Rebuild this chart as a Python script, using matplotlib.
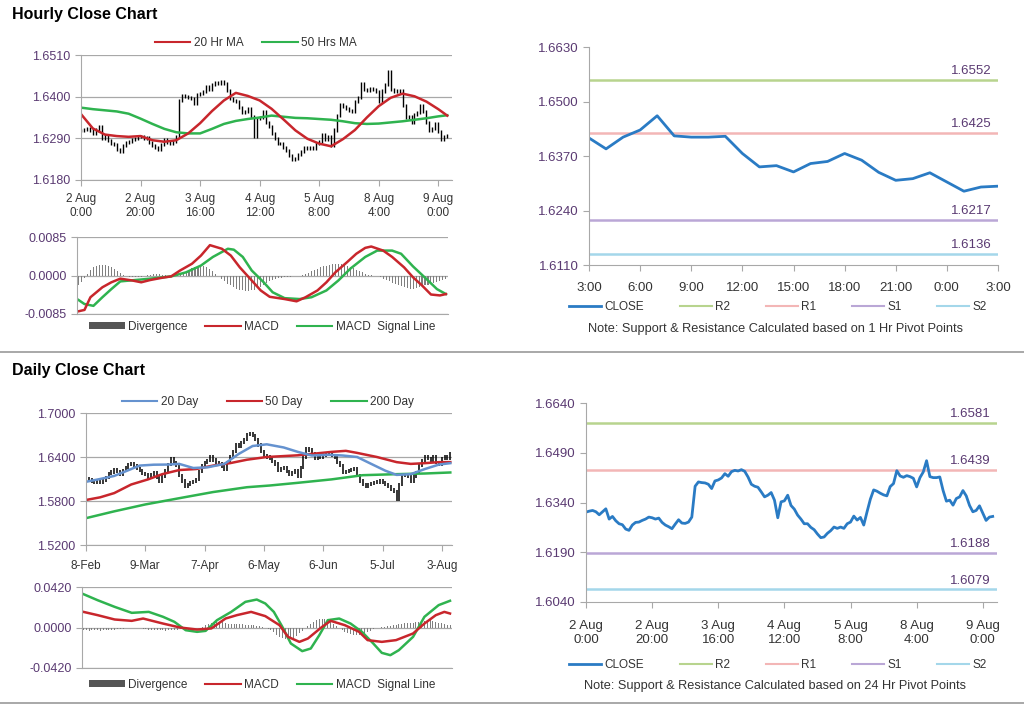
import numpy as np
import matplotlib
matplotlib.use('Agg')
import matplotlib.pyplot as plt
from matplotlib.lines import Line2D
from matplotlib.patches import Patch
import matplotlib.transforms as mtransforms

plt.rcParams['font.family'] = ['Liberation Sans', 'DejaVu Sans']

# ---------------- hourly data (2 Aug 0:00 -> 9 Aug 3:00) ----------------
hourly_close = [
    1.6311, 1.6314, 1.6316, 1.6312, 1.6303, 1.6312, 1.6321, 1.6290, 1.6298, 1.6285,
    1.6276, 1.6273, 1.6260, 1.6256, 1.6272, 1.6280, 1.6281, 1.6286, 1.6290, 1.6296,
    1.6294, 1.6290, 1.6293, 1.6280, 1.6272, 1.6267, 1.6261, 1.6275, 1.6288, 1.6278,
    1.6277, 1.6281, 1.6296, 1.6389, 1.6402, 1.6400, 1.6399, 1.6395, 1.6382, 1.6405,
    1.6408, 1.6414, 1.6427, 1.6419, 1.6433, 1.6437, 1.6435, 1.6439, 1.6434, 1.6417,
    1.6395, 1.6389, 1.6386, 1.6372, 1.6357, 1.6362, 1.6370, 1.6347, 1.6294, 1.6342,
    1.6345, 1.6362, 1.6331, 1.6320, 1.6302, 1.6290, 1.6276, 1.6276, 1.6265, 1.6258,
    1.6245, 1.6234, 1.6236, 1.6247, 1.6255, 1.6266, 1.6262, 1.6266, 1.6262, 1.6276,
    1.6281, 1.6299, 1.6287, 1.6295, 1.6272, 1.6312, 1.6350, 1.6378, 1.6374, 1.6368,
    1.6363, 1.6360, 1.6388, 1.6397, 1.6436, 1.6420, 1.6416, 1.6421, 1.6418,
    1.6413, 1.6387, 1.6415, 1.6432, 1.6466, 1.6418, 1.6415, 1.6415, 1.6417, 1.6376,
    1.6344, 1.6347, 1.6332, 1.6352, 1.6357, 1.6376, 1.6360, 1.6331, 1.6312, 1.6316,
    1.6330, 1.6308, 1.6286, 1.6296, 1.6298]
hourly_ticks = ['2 Aug\n0:00', '2 Aug\n20:00', '3 Aug\n16:00', '4 Aug\n12:00',
                '5 Aug\n8:00', '8 Aug\n4:00', '9 Aug\n0:00']

ma_hr_x = [0, 4, 8, 12, 16, 20, 24, 28, 32, 36, 40, 44, 48, 52, 56, 60,
           64, 68, 72, 76, 80, 84, 88, 92, 96, 100, 104, 108, 112, 116, 120, 123]
ma20_hr = [1.6354, 1.6316, 1.6300, 1.6296, 1.6294, 1.6296, 1.6285, 1.6281,
           1.6285, 1.6303, 1.6330, 1.6362, 1.6390, 1.6410, 1.6402, 1.6390,
           1.6368, 1.6340, 1.6311, 1.6289, 1.6276, 1.6269, 1.6288, 1.6312,
           1.6345, 1.6375, 1.6397, 1.6408, 1.6401, 1.6387, 1.6367, 1.6350]
ma50_hr = [1.6371, 1.6367, 1.6364, 1.6361, 1.6355, 1.6342, 1.6328, 1.6315,
           1.6306, 1.6303, 1.6303, 1.6315, 1.6328, 1.6336, 1.6341, 1.6345,
           1.6350, 1.6347, 1.6344, 1.6343, 1.6341, 1.6339, 1.6335, 1.6330,
           1.6328, 1.6329, 1.6332, 1.6335, 1.6339, 1.6343, 1.6348, 1.6351]

macd_hr_x = [0, 2, 4, 8, 11, 14, 18, 21, 24, 28, 31, 34, 38, 41, 44, 48, 51, 54, 58, 61,
             64, 69, 73, 76, 80, 83, 86, 90, 93, 96, 98, 102, 105, 109, 112, 115, 118, 121, 123]
macd_hr = [-0.0079, -0.0076, -0.0048, -0.0026, -0.0015, -0.0007, -0.0011, -0.0015, -0.0010, -0.0005,
           -0.0002, 0.0011, 0.0026, 0.0044, 0.0067, 0.0059, 0.0044, 0.0018, -0.0011, -0.0033,
           -0.0047, -0.0052, -0.0057, -0.0048, -0.0033, -0.0015, 0.0007, 0.0030, 0.0048, 0.0061,
           0.0064, 0.0055, 0.0041, 0.0018, -0.0004, -0.0022, -0.0042, -0.0044, -0.0041]
sig_hr_x = [0, 2, 5, 8, 11, 14, 19, 24, 31, 36, 41, 45, 50, 52, 55, 58, 62, 65, 69, 74,
            78, 83, 87, 91, 96, 100, 105, 108, 112, 117, 120, 123]
sig_hr = [-0.0054, -0.0063, -0.0067, -0.0048, -0.0030, -0.0013, -0.0010, -0.0007, -0.0002, 0.0007,
          0.0022, 0.0041, 0.0059, 0.0057, 0.0041, 0.0011, -0.0015, -0.0037, -0.0050, -0.0052,
          -0.0048, -0.0033, -0.0011, 0.0015, 0.0041, 0.0055, 0.0055, 0.0048, 0.0020, -0.0011,
          -0.0030, -0.0041]
div_hr = [
    -0.0020, -0.0014, -0.0006, 0.0004, 0.0012, 0.0018, 0.0022, 0.0024, 0.0024, 0.0024,
    0.0022, 0.0019, 0.0015, 0.0011, 0.0006, 0.0002, -0.0002, -0.0003, -0.0004, -0.0004,
    -0.0003, -0.0003, -0.0002, 0.0001, 0.0002, 0.0003, 0.0003, 0.0003, 0.0002, 0.0001,
    0.0000, 0.0001, 0.0001, 0.0002, 0.0004, 0.0007, 0.0010, 0.0013, 0.0016, 0.0019,
    0.0021, 0.0022, 0.0021, 0.0018, 0.0014, 0.0009, 0.0004, -0.0002, -0.0008, -0.0013,
    -0.0018, -0.0022, -0.0026, -0.0029, -0.0031, -0.0033, -0.0034, -0.0034, -0.0033, -0.0031,
    -0.0028, -0.0025, -0.0021, -0.0017, -0.0013, -0.0010, -0.0008, -0.0006, -0.0005, -0.0004,
    -0.0003, -0.0003, -0.0002, -0.0002, -0.0001, 0.0001, 0.0003, 0.0006, 0.0009, 0.0012,
    0.0015, 0.0018, 0.0020, 0.0022, 0.0024, 0.0025, 0.0026, 0.0026, 0.0025, 0.0024,
    0.0022, 0.0019, 0.0016, 0.0013, 0.0010, 0.0007, 0.0004, 0.0002, 0.0001, -0.0001,
    -0.0002, -0.0004, -0.0007, -0.0010, -0.0013, -0.0016, -0.0019, -0.0022, -0.0024, -0.0026,
    -0.0028, -0.0029, -0.0029, -0.0028, -0.0026, -0.0024, -0.0022, -0.0020, -0.0018, -0.0016,
    -0.0014, -0.0012, -0.0010, -0.0008]

last_day_labels = ['3:00', '6:00', '9:00', '12:00', '15:00', '18:00', '21:00', '0:00', '3:00']
level_names = ['R2', 'R1', 'S1', 'S2']
levels_1h = [1.6552, 1.6425, 1.6217, 1.6136]
levels_24h = [1.6581, 1.6439, 1.6188, 1.6079]

# ---------------- daily data (8 Feb -> Aug) ----------------
daily_close = [
    1.6110, 1.6090, 1.6065, 1.6055, 1.6070, 1.6048, 1.6080, 1.6120, 1.6170, 1.6195,
    1.6230, 1.6200, 1.6166, 1.6220, 1.6260, 1.6300, 1.6316, 1.6283, 1.6240, 1.6213,
    1.6180, 1.6166, 1.6119, 1.6160, 1.6189, 1.6120, 1.6072, 1.6142, 1.6220, 1.6300,
    1.6377, 1.6330, 1.6283, 1.6150, 1.6072, 1.6002, 1.6030, 1.6048, 1.6070, 1.6095,
    1.6200, 1.6283, 1.6330, 1.6353, 1.6400, 1.6360, 1.6330, 1.6316, 1.6270, 1.6236,
    1.6320, 1.6400, 1.6480, 1.6564, 1.6541, 1.6600, 1.6634, 1.6705, 1.6719, 1.6690,
    1.6634, 1.6564, 1.6480, 1.6423, 1.6400, 1.6377, 1.6340, 1.6306, 1.6213, 1.6240,
    1.6259, 1.6200, 1.6166, 1.6190, 1.6213, 1.6142, 1.6259, 1.6400, 1.6517, 1.6494,
    1.6440, 1.6377, 1.6390, 1.6400, 1.6423, 1.6435, 1.6447, 1.6420, 1.6400, 1.6330,
    1.6283, 1.6189, 1.6200, 1.6213, 1.6225, 1.6236, 1.6150, 1.6072, 1.6030, 1.6002,
    1.6025, 1.6040, 1.6048, 1.6060, 1.6072, 1.6050, 1.6025, 1.6002, 1.5960, 1.5931,
    1.5820, 1.6025, 1.6166, 1.6150, 1.6142, 1.6072, 1.6130, 1.6189, 1.6283, 1.6350,
    1.6400, 1.6380, 1.6353, 1.6400, 1.6330, 1.6306, 1.6380, 1.6400, 1.6377, 1.6447]
daily_ticks = ['8-Feb', '9-Mar', '7-Apr', '6-May', '6-Jun', '5-Jul', '3-Aug']

d20_x = [0, 5, 10, 15, 19, 24, 29, 33, 38, 43, 49, 54, 59, 64, 70, 75, 80, 86, 91, 96,
         101, 106, 110, 115, 120, 125, 129]
d20 = [1.6062, 1.6100, 1.6142, 1.6220, 1.6283, 1.6295, 1.6297, 1.6306, 1.6250, 1.6259,
       1.6306, 1.6440, 1.6550, 1.6573, 1.6530, 1.6470, 1.6420, 1.6430, 1.6420, 1.6400,
       1.6306, 1.6213, 1.6156, 1.6166, 1.6236, 1.6297, 1.6316]
d50_x = [0, 5, 10, 16, 22, 27, 33, 39, 45, 51, 57, 64, 75, 87, 92, 96, 103, 110, 115, 120, 125, 129]
d50 = [1.5814, 1.5850, 1.5908, 1.6025, 1.6095, 1.6166, 1.6222, 1.6236, 1.6283, 1.6316,
       1.6363, 1.6400, 1.6423, 1.6470, 1.6484, 1.6456, 1.6400, 1.6330, 1.6306, 1.6316,
       1.6330, 1.6330]
d200_x = [0, 10, 21, 33, 45, 57, 65, 75, 87, 98, 110, 120, 129]
d200 = [1.5566, 1.5659, 1.5753, 1.5838, 1.5922, 1.5988, 1.6011, 1.6048, 1.6095, 1.6152,
        1.6166, 1.6175, 1.6189]

macd_d_x = [0, 5, 11, 17, 21, 28, 34, 40, 45, 50, 54, 59, 64, 69, 72, 76, 79, 84, 87, 92,
            97, 100, 105, 110, 116, 120, 124, 127, 129]
macd_d = [0.0162, 0.0128, 0.0083, 0.0069, 0.0093, 0.0041, 0.0000, -0.0021, -0.0010, 0.0093,
          0.0128, 0.0162, 0.0118, 0.0024, -0.0097, -0.0149, -0.0114, 0.0007, 0.0069, 0.0024,
          -0.0045, -0.0131, -0.0149, -0.0131, -0.0062, 0.0041, 0.0128, 0.0162, 0.0145]
sig_d_x = [0, 5, 11, 17, 23, 28, 32, 36, 40, 43, 47, 52, 57, 61, 64, 67, 70, 73, 77, 80,
           83, 86, 90, 94, 98, 102, 105, 108, 111, 116, 120, 125, 129]
sig_d = [0.0346, 0.0283, 0.0214, 0.0152, 0.0162, 0.0111, 0.0059, -0.0028, -0.0045, -0.0035,
         0.0076, 0.0162, 0.0266, 0.0290, 0.0249, 0.0162, 0.0007, -0.0166, -0.0245, -0.0218,
         -0.0080, 0.0076, 0.0093, 0.0041, -0.0045, -0.0166, -0.0263, -0.0287, -0.0235, -0.0097,
         0.0111, 0.0232, 0.0277]
div_d = [
    -0.0028, -0.0030, -0.0032, -0.0030, -0.0028, -0.0030, -0.0032, -0.0030, -0.0028, -0.0030,
    -0.0026, -0.0024, -0.0020, -0.0016, -0.0012,
    -0.0008, -0.0006, -0.0004, -0.0004, -0.0006, -0.0010, -0.0014, -0.0018,
    -0.0022, -0.0026, -0.0030, -0.0030, -0.0028, -0.0030, -0.0032, -0.0030, -0.0028, -0.0026, -0.0022,
    -0.0018, -0.0016, -0.0020, -0.0022, -0.0018, -0.0014, -0.0010, 0.0000, 0.0010, 0.0022, 0.0034,
    0.0046, 0.0058, 0.0062, 0.0060, 0.0054, 0.0046, 0.0040, 0.0036, 0.0034, 0.0036, 0.0034,
    0.0032, 0.0030, 0.0028, 0.0030, 0.0026, 0.0020, 0.0012, 0.0004, -0.0006, -0.0018,
    -0.0030, -0.0050, -0.0075, -0.0095, -0.0110, -0.0120, -0.0124, -0.0118, -0.0105, -0.0085,
    -0.0060, -0.0035, -0.0010,
    0.0015, 0.0040, 0.0062, 0.0078, 0.0090, 0.0093, 0.0090, 0.0080, 0.0062, 0.0040, 0.0015,
    -0.0010, -0.0030, -0.0048, -0.0062, -0.0072, -0.0078, -0.0080, -0.0076, -0.0068, -0.0058,
    -0.0045, -0.0032, -0.0020, -0.0010, -0.0004,
    0.0002, 0.0006, 0.0012, 0.0018, 0.0024, 0.0030, 0.0036, 0.0040, 0.0044, 0.0046,
    0.0048, 0.0050, 0.0052, 0.0056, 0.0062, 0.0070, 0.0076, 0.0074, 0.0068, 0.0060,
    0.0050, 0.0042, 0.0036, 0.0030, 0.0024]

# ---------------- colours ----------------
RED = '#c8262c'
GREEN = '#2fb34f'
BLUE20 = '#6592cf'
CLOSE_BLUE = '#2a7bc4'
LEVEL_COLS = ['#b8d48e', '#f3b6b6', '#baa7d6', '#a4d7ea']
PURPLE = '#5a3a72'
GRID = '#a8a8a8'
TXT = '#333333'

W, H = 1024, 706
fig = plt.figure(figsize=(W / 100, H / 100), dpi=100)


def box(l, t, r, b):
    return fig.add_axes([l / W, 1 - b / H, (r - l) / W, (b - t) / H])


def clean(ax, grid=True, xpad=3.5):
    for s in ['top', 'right']:
        ax.spines[s].set_visible(False)
    for s in ['left', 'bottom']:
        ax.spines[s].set_color(GRID)
    ax.tick_params(axis='both', colors=GRID, length=4, width=0.8)
    ax.tick_params(axis='y', labelcolor=PURPLE)
    ax.tick_params(axis='x', labelcolor=TXT, pad=xpad)
    if grid:
        ax.yaxis.grid(True, color=GRID, lw=0.9)
        ax.set_axisbelow(True)


def price_bars(ax, closes, lw, pad):
    # bar from previous close to this close, with a short wick either side
    c = np.array(closes)
    x = np.arange(len(c))
    prev = np.r_[c[0], c[:-1]]
    ax.vlines(x, np.minimum(prev, c) - pad, np.maximum(prev, c) + pad,
              color='black', lw=lw)


def fmt(v, d=4):
    return f'{v:.{d}f}'


def macd_panel(ax, n, div, mx, m, sx, s, lim):
    ax.bar(np.arange(n), div, width=0.35, color='#7f7f7f')
    ax.plot(sx, s, color=GREEN, lw=1.8)
    ax.plot(mx, m, color=RED, lw=1.8)
    ax.set_ylim(-lim, lim)
    ax.set_yticks([-lim, 0, lim])
    ax.set_yticklabels([fmt(-lim), fmt(0), fmt(lim)], fontsize=9)
    ax.set_xticks([])
    ax.set_xlim(-0.5, n - 0.3)
    clean(ax)


def macd_legend(y):
    handles = [Patch(facecolor='#555555', edgecolor='none'),
               Line2D([], [], color=RED, lw=1.5),
               Line2D([], [], color=GREEN, lw=1.5)]
    fig.legend(handles, ['Divergence', 'MACD', 'MACD  Signal Line'], loc='center',
               bbox_to_anchor=(262 / W, 1 - y / H), ncol=3, frameon=False, fontsize=8.5,
               handlelength=3.0, handleheight=0.5, handletextpad=0.3, columnspacing=1.5,
               labelcolor=TXT)


def pivot_panel(ax, x, y, levels, ylo, step, xticks, xlabels, note, legend_y, note_y, xpad):
    blend = mtransforms.blended_transform_factory(ax.transAxes, ax.transData)
    for lv, col in zip(levels, LEVEL_COLS):
        ax.axhline(lv, color=col, lw=1.8)
        ax.text(0.985, lv + step * 0.05, fmt(lv), transform=blend,
                ha='right', va='bottom', fontsize=9.5, color=PURPLE)
    ax.plot(x, y, color=CLOSE_BLUE, lw=2)
    yt = [ylo + step * i for i in range(5)]
    ax.set_ylim(yt[0], yt[-1])
    ax.set_yticks(yt)
    ax.set_yticklabels([fmt(v) for v in yt], fontsize=9.5)
    ax.set_xticks(xticks)
    ax.set_xticklabels(xlabels, fontsize=9.5)
    clean(ax, grid=False, xpad=xpad)
    handles = [Line2D([], [], color=CLOSE_BLUE, lw=2)] + \
              [Line2D([], [], color=c, lw=1.5) for c in LEVEL_COLS]
    fig.legend(handles, ['CLOSE'] + level_names, loc='center',
               bbox_to_anchor=(778 / W, 1 - legend_y / H), ncol=5, frameon=False, fontsize=8.5,
               handlelength=2.7, handletextpad=0.3, columnspacing=3.0, labelcolor=TXT)
    fig.text(775 / W, 1 - note_y / H, note, ha='center', va='center', fontsize=9.2, color=TXT)


# ================= HOURLY =================
fig.text(12 / W, 1 - 15 / H, 'Hourly Close Chart', fontsize=11.5, fontweight='bold', va='center')

n_hr = len(hourly_close)
ax1 = box(81, 55, 452, 180)
price_bars(ax1, hourly_close, 1.0, 0.0004)
ax1.plot(ma_hr_x, ma50_hr, color=GREEN, lw=1.8)
ax1.plot(ma_hr_x, ma20_hr, color=RED, lw=1.8)
yt = [1.6180, 1.6290, 1.6400, 1.6510]
ax1.set_ylim(yt[0], yt[-1])
ax1.set_yticks(yt)
ax1.set_yticklabels([fmt(v) for v in yt], fontsize=9)
ax1.set_xlim(0, 124.6)
ax1.set_xticks(range(0, 121, 20))
ax1.set_xticklabels(hourly_ticks, fontsize=8.5)
clean(ax1, xpad=5.5)
fig.legend([Line2D([], [], color=RED, lw=1.5), Line2D([], [], color=GREEN, lw=1.5)],
           ['20 Hr MA', '50 Hrs MA'], loc='center', bbox_to_anchor=(256 / W, 1 - 43 / H),
           ncol=2, frameon=False, fontsize=8.5, handlelength=3.0, handletextpad=0.3,
           columnspacing=1.6, labelcolor=TXT)

ax2 = box(77, 237, 448, 314)
macd_panel(ax2, n_hr, div_hr, macd_hr_x, macd_hr, sig_hr_x, sig_hr, 0.0085)
macd_legend(327)

ax3 = box(589, 47, 998, 265)
last_day = hourly_close[-25:]
pivot_panel(ax3, np.arange(len(last_day)), last_day, levels_1h, 1.6110, 0.0130,
            range(0, 25, 3), last_day_labels,
            'Note: Support & Resistance Calculated based on 1 Hr Pivot Points', 307, 329, 8)
ax3.set_xlim(0, 24)

# separators
fig.add_artist(Line2D([0, 1], [1 - 352 / H] * 2, color='#9a9a9a', lw=1.2, transform=fig.transFigure))
fig.add_artist(Line2D([0, 1], [1 - 703 / H] * 2, color='#9a9a9a', lw=1.2, transform=fig.transFigure))

# ================= DAILY =================
fig.text(12 / W, 1 - 370 / H, 'Daily Close Chart', fontsize=11.5, fontweight='bold', va='center')

n_d = len(daily_close)
ax4 = box(86, 413, 452, 545)
price_bars(ax4, daily_close, 1.1, 0.0022)
ax4.plot(d200_x, d200, color=GREEN, lw=1.8)
ax4.plot(d50_x, d50, color=RED, lw=1.8)
ax4.plot(d20_x, d20, color=BLUE20, lw=1.8)
yt = [1.5200, 1.5800, 1.6400, 1.7000]
ax4.set_ylim(yt[0], yt[-1])
ax4.set_yticks(yt)
ax4.set_yticklabels([fmt(v) for v in yt], fontsize=9)
ax4.set_xlim(0, 129.6)
ax4.set_xticks(range(0, 127, 21))
ax4.set_xticklabels(daily_ticks, fontsize=8.5)
clean(ax4, xpad=6.5)
fig.legend([Line2D([], [], color=c, lw=1.5) for c in [BLUE20, RED, GREEN]],
           ['20 Day', '50 Day', '200 Day'], loc='center', bbox_to_anchor=(268 / W, 1 - 402 / H),
           ncol=3, frameon=False, fontsize=8.5, handlelength=3.0, handletextpad=0.3,
           columnspacing=2.4, labelcolor=TXT)

ax5 = box(82, 587, 452, 668)
macd_panel(ax5, n_d, div_d, macd_d_x, macd_d, sig_d_x, sig_d, 0.0420)
macd_legend(685)

ax6 = box(586, 403, 997, 602)
pivot_panel(ax6, np.arange(n_hr), hourly_close, levels_24h, 1.6040, 0.0150,
            range(0, 121, 20), hourly_ticks,
            'Note: Support & Resistance Calculated based on 24 Hr Pivot Points', 665, 686, 9)
ax6.set_xlim(0, 124.3)

fig.savefig('out.png', dpi=100)
